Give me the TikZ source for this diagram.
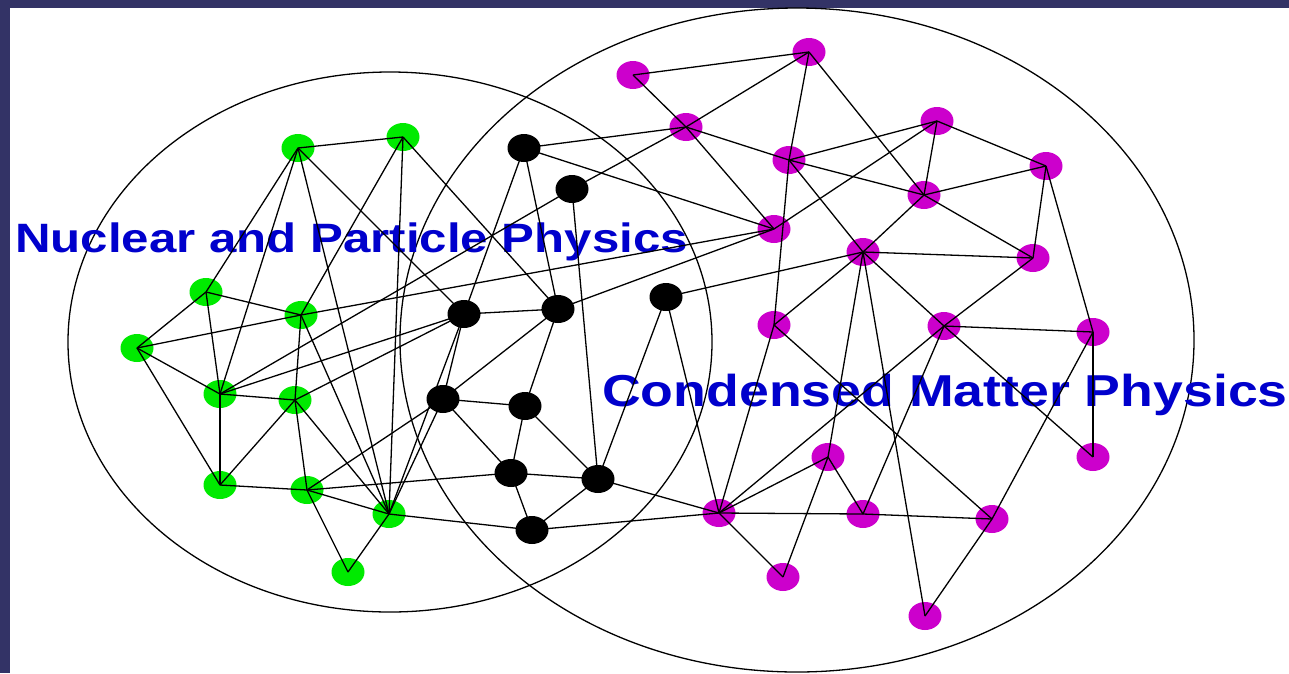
\documentclass[tikz,border=0pt]{standalone}
\usepackage{fontspec}
\setmainfont{Liberation Sans}
\usepackage{graphicx}
\usepackage{tikz}
\usetikzlibrary{shapes.geometric}
\usepackage{xcolor}
\definecolor{FrameNavy}{HTML}{333366}
\definecolor{NuclGreen}{HTML}{00EA00}
\definecolor{CondMagenta}{HTML}{CC00CC}
\definecolor{LabelBlue}{HTML}{0000CC}

\begin{document}
\begin{tikzpicture}[x=1pt, y=-1pt,
    dot/.style={ellipse,minimum width=33pt,minimum height=28pt,inner sep=0pt},
    nucl/.style={dot,fill=NuclGreen},
    bridge/.style={dot,fill=black},
    cond/.style={dot,fill=CondMagenta},
    field/.style={text=LabelBlue,inner sep=0pt,anchor=base west},
    link/.style={every edge/.style={draw,line width=1.3pt,to path={(\tikztostart.center) -- (\tikztotarget.center)}}}]
    \useasboundingbox (0,0) rectangle (1289,673);
    \fill[white] (0,0) rectangle (1289,673);
    \fill[FrameNavy] (0,0) rectangle (1289,8);
    \fill[FrameNavy] (0,0) rectangle (10,673);
    % the two fields
    \draw[line width=1.3pt] (390,342) ellipse [x radius=322pt,y radius=270pt];
    \draw[line width=1.3pt] (797,340) ellipse [x radius=397pt,y radius=332pt];
    \node[field,font=\fontsize{41}{48}\selectfont\bfseries] (nucltext) at (15,252) {\scalebox{1.2}[1]{Nuclear and Particle Physics}};
    \node[field,font=\fontsize{44.7}{52}\selectfont\bfseries] (condtext) at (602,406) {\scalebox{1.2}[1]{Condensed Matter Physics}};
    % nuclear and particle physics
    \node[nucl] (g1) at (298,148) {};
    \node[nucl] (g2) at (403,137) {};
    \node[nucl] (g3) at (206,292) {};
    \node[nucl] (g4) at (301,315) {};
    \node[nucl] (g5) at (137,348) {};
    \node[nucl] (g6) at (220,394) {};
    \node[nucl] (g7) at (295,400) {};
    \node[nucl] (g8) at (220,485) {};
    \node[nucl] (g9) at (307,490) {};
    \node[nucl] (g10) at (389,514) {};
    \node[nucl] (g11) at (348,572) {};
    % in between
    \node[bridge] (b1) at (524,148) {};
    \node[bridge] (b2) at (572,189) {};
    \node[bridge] (b3) at (464,314) {};
    \node[bridge] (b4) at (558,309) {};
    \node[bridge] (b5) at (666,297) {};
    \node[bridge] (b6) at (443,399) {};
    \node[bridge] (b7) at (525,406) {};
    \node[bridge] (b8) at (511,473) {};
    \node[bridge] (b9) at (598,479) {};
    \node[bridge] (b10) at (532,530) {};
    % condensed matter physics
    \node[cond] (m1) at (633,75) {};
    \node[cond] (m2) at (809,52) {};
    \node[cond] (m3) at (686,127) {};
    \node[cond] (m4) at (789,160) {};
    \node[cond] (m5) at (937,121) {};
    \node[cond] (m6) at (924,195) {};
    \node[cond] (m7) at (1046,166) {};
    \node[cond] (m8) at (774,229) {};
    \node[cond] (m9) at (863,252) {};
    \node[cond] (m10) at (1033,258) {};
    \node[cond] (m11) at (774,325) {};
    \node[cond] (m12) at (944,326) {};
    \node[cond] (m13) at (1093,332) {};
    \node[cond] (m14) at (828,457) {};
    \node[cond] (m15) at (1093,457) {};
    \node[cond] (m16) at (719,513) {};
    \node[cond] (m17) at (863,514) {};
    \node[cond] (m18) at (992,519) {};
    \node[cond] (m19) at (783,577) {};
    \node[cond] (m20) at (925,616) {};
    % links
    \path[link] (g1) edge (g2) edge (g3) edge (g6) edge (g10) edge (b3);
    \path[link] (g2) edge (g4) edge (g10) edge (b4);
    \path[link] (g3) edge (g4) edge (g5) edge (g6);
    \path[link] (g4) edge (g5) edge (g7) edge (g10) edge (m8);
    \path[link] (g5) edge (g6) edge (g8);
    \path[link] (g6) edge (g7) edge (g8) edge (b2) edge (b3);
    \path[link] (g7) edge (g8) edge (g9) edge (g10) edge (b3);
    \path[link] (g8) edge (g9);
    \path[link] (g9) edge (g10) edge (g11) edge (b6) edge (b8);
    \path[link] (g10) edge (g11) edge (b10) edge (b6) edge (b3);
    \path[link] (b1) edge (b3) edge (b4) edge (m3) edge (m8);
    \path[link] (b2) edge (b9) edge (m3);
    \path[link] (b3) edge (b4) edge (b6);
    \path[link] (b4) edge (b6) edge (b7) edge (m8);
    \path[link] (b5) edge (b9) edge (m16) edge (m9);
    \path[link] (b6) edge (b7) edge (b8);
    \path[link] (b7) edge (b8) edge (b9);
    \path[link] (b8) edge (b9) edge (b10);
    \path[link] (b9) edge (b10) edge (m16);
    \path[link] (b10) edge (m16);
    \path[link] (m1) edge (m2) edge (m3);
    \path[link] (m2) edge (m3) edge (m4) edge (m6);
    \path[link] (m3) edge (m4) edge (m8);
    \path[link] (m4) edge (m5) edge (m6) edge (m9) edge (m11);
    \path[link] (m5) edge (m6) edge (m7) edge (m8);
    \path[link] (m6) edge (m7) edge (m9) edge (m10);
    \path[link] (m7) edge (m10) edge (m13);
    \path[link] (m9) edge (m10) edge (m11) edge (m12) edge (m14) edge (m20);
    \path[link] (m10) edge (m12);
    \path[link] (m11) edge (m16) edge (m18);
    \path[link] (m12) edge (m13) edge (m15) edge (m16) edge (m17);
    \path[link] (m13) edge (m15) edge (m18);
    \path[link] (m14) edge (m16) edge (m17) edge (m19);
    \path[link] (m16) edge (m17) edge (m19);
    \path[link] (m17) edge (m18);
    \path[link] (m18) edge (m20);
\end{tikzpicture}
\end{document}
